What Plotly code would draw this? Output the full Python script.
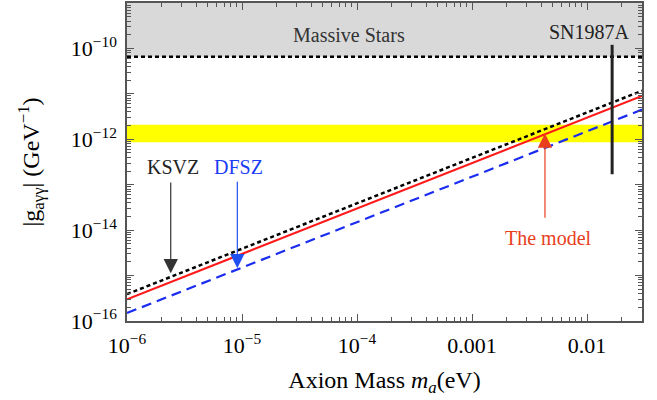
import plotly.graph_objects as go
import numpy as np

# ---- data ----
mass_ends = [1e-6, 0.03]                 # eV
ksvz = [3.9e-16, 1.17e-11]
dfsz = [1.5e-16, 4.5e-12]
model = [3.0e-16, 9.0e-12]

massive_stars_limit = 6.6e-11
band_low, band_high = 8.6e-13, 2.1e-12
sn_mass = 0.0165
sn_g = [1.7e-13, 1.2e-10]

ksvz_arrow_x = 2.4e-6
dfsz_arrow_x = 9.1e-6
model_arrow_x = 4.3e-3

xtick_vals = [1e-6, 1e-5, 1e-4, 1e-3, 1e-2]
xtick_text = ["10<sup>−6</sup>", "10<sup>−5</sup>", "10<sup>−4</sup>", "0.001", "0.01"]
ytick_vals = [1e-16, 1e-15, 1e-14, 1e-13, 1e-12, 1e-11, 1e-10, 1e-9]
ytick_text = ["10<sup>−16</sup>", "", "10<sup>−14</sup>", "", "10<sup>−12</sup>", "", "10<sup>−10</sup>", ""]
minor_mult = [2, 3, 4, 5, 6, 7, 8, 9]
x_decades = [1e-6, 1e-5, 1e-4, 1e-3, 1e-2]
y_decades = [1e-16, 1e-15, 1e-14, 1e-13, 1e-12, 1e-11, 1e-10]

FONT = "Liberation Serif"
fig = go.Figure()

# shaded regions
fig.add_shape(type="rect", xref="paper", yref="y", x0=0, x1=1,
              y0=massive_stars_limit, y1=1e-9, fillcolor="#d9d9d9", line_width=0, layer="below")
fig.add_shape(type="rect", xref="paper", yref="y", x0=0, x1=1,
              y0=band_low, y1=band_high, fillcolor="#ffff00", line_width=0, layer="below")

fig.add_trace(go.Scatter(x=mass_ends, y=[massive_stars_limit]*2, mode="lines",
                         line=dict(color="black", width=2.5, dash="4px,3px"), showlegend=False))
fig.add_trace(go.Scatter(x=mass_ends, y=dfsz, mode="lines",
                         line=dict(color="#1a2cf0", width=2.2, dash="10px,6px"), showlegend=False))
fig.add_trace(go.Scatter(x=mass_ends, y=model, mode="lines",
                         line=dict(color="#ff1a1a", width=2.2), showlegend=False))
fig.add_trace(go.Scatter(x=mass_ends, y=ksvz, mode="lines",
                         line=dict(color="black", width=2.5, dash="4px,3px"), showlegend=False))
fig.add_trace(go.Scatter(x=[sn_mass, sn_mass], y=sn_g, mode="lines",
                         line=dict(color="#222222", width=3), showlegend=False))
# invisible trace to carry the minor-tick axes
fig.add_trace(go.Scatter(x=mass_ends, y=ksvz, mode="lines", line=dict(width=0),
                         opacity=0, xaxis="x2", yaxis="y2", showlegend=False, hoverinfo="skip"))

def lg(v):
    return float(np.log10(v))

ann = []
ann.append(dict(x=lg(ksvz_arrow_x), y=-14.95, ax=lg(ksvz_arrow_x), ay=-12.92,
                xref="x", yref="y", axref="x", ayref="y", showarrow=True,
                arrowhead=2, arrowsize=2.4, arrowwidth=1.2, arrowcolor="#333333", text=""))
ann.append(dict(x=lg(dfsz_arrow_x), y=-14.84, ax=lg(dfsz_arrow_x), ay=-12.9,
                xref="x", yref="y", axref="x", ayref="y", showarrow=True,
                arrowhead=2, arrowsize=2.4, arrowwidth=1.2, arrowcolor="#2050f0", text=""))
ann.append(dict(x=lg(model_arrow_x), y=-11.87, ax=lg(model_arrow_x), ay=-13.76,
                xref="x", yref="y", axref="x", ayref="y", showarrow=True,
                arrowhead=2, arrowsize=2.4, arrowwidth=1.2, arrowcolor="#e8401c", text=""))
ann.append(dict(x=lg(2.5e-6), y=-12.62, xref="x", yref="y", text="KSVZ", showarrow=False,
                font=dict(family=FONT, size=20, color="#222222")))
ann.append(dict(x=lg(9.3e-6), y=-12.62, xref="x", yref="y", text="DFSZ", showarrow=False,
                font=dict(family=FONT, size=20, color="#1a3cf5")))
ann.append(dict(x=lg(4.6e-3), y=-14.18, xref="x", yref="y", text="The model", showarrow=False,
                font=dict(family=FONT, size=20, color="#e8401c")))
ann.append(dict(x=lg(8.5e-5), y=-9.7, xref="x", yref="y", text="Massive Stars", showarrow=False,
                font=dict(family=FONT, size=20, color="#333333")))
ann.append(dict(x=lg(0.0105), y=-9.63, xref="x", yref="y", text="SN1987A", showarrow=False,
                font=dict(family=FONT, size=20, color="#222222")))

axis_common = dict(showline=True, linecolor="#555555", linewidth=1.5, mirror="ticks",
                   ticks="inside", tickcolor="#555555", ticklen=7, tickwidth=1,
                   showgrid=False, zeroline=False, automargin=False,
                   tickfont=dict(family=FONT, size=22, color="black"))

x_minor = [d * m for d in x_decades for m in minor_mult if d * m <= 0.03]
y_minor = [d * m for d in y_decades for m in minor_mult]

fig.update_layout(
    width=657, height=400,
    margin=dict(l=127, r=15, t=3, b=79),
    plot_bgcolor="white", paper_bgcolor="white",
    font=dict(family=FONT, color="black"),
    annotations=ann,
    xaxis=dict(type="log", range=[-6, lg(0.03)], tickvals=xtick_vals, ticktext=xtick_text,
               ticklabelstandoff=4,
               title=dict(text="Axion Mass <i>m<sub>a</sub></i>(eV)", font=dict(family=FONT, size=24),
                          standoff=14),
               **axis_common),
    yaxis=dict(type="log", range=[-16, -9], tickvals=ytick_vals, ticktext=ytick_text,
               ticklabelstandoff=4,
               title=dict(text="|g<sub>aγγ</sub>| (GeV<sup>−1</sup>)", font=dict(family=FONT, size=24),
                          standoff=24),
               **axis_common),
    xaxis2=dict(type="log", range=[-6, lg(0.03)], overlaying="x", side="bottom",
                tickvals=x_minor, showticklabels=False, ticks="inside", ticklen=4,
                tickcolor="#555555", tickwidth=1, mirror="ticks", showline=False,
                showgrid=False, zeroline=False, automargin=False),
    yaxis2=dict(type="log", range=[-16, -9], overlaying="y", side="left",
                tickvals=y_minor, showticklabels=False, ticks="inside", ticklen=4,
                tickcolor="#555555", tickwidth=1, mirror="ticks", showline=False,
                showgrid=False, zeroline=False, automargin=False),
)

fig.write_html("out.html", config={"displayModeBar": False},
               post_script="document.body.style.margin='0px';")
